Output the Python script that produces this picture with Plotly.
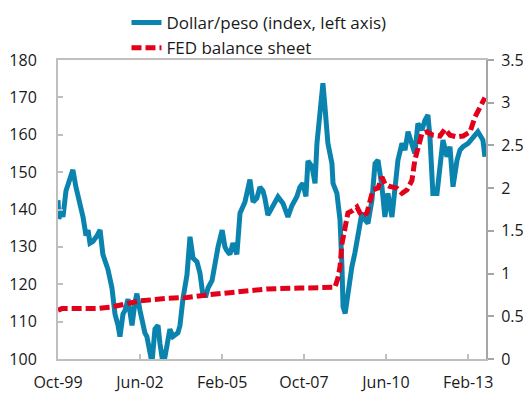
import plotly.graph_objects as go

# Dollar/peso index (left axis)
peso_dates = [
    "1999-10-01", "1999-10-12", "1999-11-06", "1999-11-29", "2000-01-04", "2000-02-21",
    "2000-03-26", "2000-05-01", "2000-05-25", "2000-06-30", "2000-07-24", "2000-08-29",
    "2000-09-22", "2000-10-15", "2000-11-20", "2001-01-07", "2001-02-12", "2001-03-17",
    "2001-04-22", "2001-05-16", "2001-07-03", "2001-08-08", "2001-09-13", "2001-10-06",
    "2001-11-11", "2001-12-05", "2002-01-10", "2002-02-03", "2002-02-26", "2002-04-02",
    "2002-04-25", "2002-06-01", "2002-06-24", "2002-07-29", "2002-08-22", "2002-09-27",
    "2002-10-21", "2002-11-26", "2003-01-01", "2003-01-25", "2003-02-28", "2003-03-24",
    "2003-04-16", "2003-05-22", "2003-06-27", "2003-07-21", "2003-08-26", "2003-09-19",
    "2003-10-24", "2003-12-11", "2004-01-16", "2004-02-21", "2004-04-08", "2004-05-13",
    "2004-06-18", "2004-07-24", "2004-08-17", "2004-10-04", "2004-11-09", "2004-12-14",
    "2005-02-01", "2005-03-06", "2005-03-29", "2005-05-04", "2005-06-09", "2005-07-26",
    "2005-09-01", "2005-10-30", "2005-12-28", "2006-02-03", "2006-03-20", "2006-04-25",
    "2006-06-01", "2006-06-24", "2006-07-29", "2006-09-27", "2006-11-26", "2007-01-25",
    "2007-03-24", "2007-05-10", "2007-07-08", "2007-08-13", "2007-09-18", "2007-10-24",
    "2007-11-17", "2008-01-04", "2008-02-09", "2008-03-03", "2008-04-08", "2008-05-13",
    "2008-06-06", "2008-07-11", "2008-08-28", "2008-09-10", "2008-10-26", "2008-12-02",
    "2008-12-25", "2009-01-07", "2009-02-01", "2009-03-06", "2009-04-22", "2009-05-27",
    "2009-07-03", "2009-08-19", "2009-09-25", "2009-10-30", "2009-12-16", "2010-01-22",
    "2010-02-26", "2010-04-14", "2010-05-19", "2010-06-24", "2010-08-11", "2010-09-16",
    "2010-10-21", "2010-12-08", "2011-01-13", "2011-02-18", "2011-04-05", "2011-05-10",
    "2011-06-15", "2011-08-02", "2011-09-07", "2011-10-12", "2011-11-05", "2011-11-29",
    "2011-12-10", "2012-01-28", "2012-03-03", "2012-04-08", "2012-05-25", "2012-06-30",
    "2012-08-05", "2012-09-22", "2012-10-27", "2012-12-02", "2013-02-01", "2013-03-30",
    "2013-05-28", "2013-07-26", "2013-08-19",
]
peso_values = [
    142.5, 137.5, 140.0, 138.0, 145.0, 148.0,
    150.6, 146.0, 144.0, 140.0, 138.0, 133.0,
    134.5, 131.0, 131.5, 133.0, 134.5, 128.0,
    126.0, 124.0, 119.0, 112.0, 109.0, 106.0,
    112.0, 113.0, 116.0, 112.0, 109.0, 115.0,
    117.5, 113.0, 110.0, 107.0, 106.0, 101.0,
    99.0, 108.0, 109.0, 104.0, 99.0, 100.5,
    104.0, 108.0, 106.0, 106.5, 107.0, 109.0,
    116.0, 122.5, 132.7, 127.0, 126.0, 123.0,
    117.0, 117.0, 119.0, 121.0, 126.5, 130.0,
    134.5, 130.0, 129.0, 128.0, 131.0, 128.0,
    139.0, 142.0, 148.0, 142.0, 143.0, 146.0,
    145.0, 143.0, 138.5, 141.0, 143.4, 141.6,
    138.0, 141.0, 143.4, 146.0, 147.0, 143.5,
    153.0, 151.5, 147.0, 157.7, 166.6, 173.8,
    167.5, 157.7, 152.3, 147.0, 144.3, 137.2,
    124.7, 114.0, 112.2, 118.4, 124.7, 128.3,
    133.6, 139.0, 137.2, 136.3, 142.5, 152.3,
    153.2, 146.1, 138.0, 144.3, 138.0, 146.1,
    153.2, 157.7, 155.9, 160.8, 156.8, 155.0,
    163.0, 161.3, 163.9, 165.3, 159.5, 150.6,
    144.3, 144.3, 153.2, 158.6, 154.1, 156.8,
    146.1, 153.2, 155.9, 156.8, 157.7, 159.5,
    160.8, 158.6, 154.1,
]

# FED balance sheet (right axis)
fed_dates = [
    "1999-10-01", "1999-11-17", "2000-06-18", "2001-01-07", "2001-06-09", "2002-01-10",
    "2002-06-01", "2003-04-16", "2003-12-11", "2004-08-05", "2005-06-09", "2006-07-17",
    "2007-08-13", "2008-10-03", "2008-11-08", "2008-12-02", "2008-12-25", "2009-02-01",
    "2009-03-06", "2009-05-04", "2009-06-21", "2009-07-26", "2009-09-01", "2009-10-18",
    "2009-11-23", "2009-12-28", "2010-02-26", "2010-04-14", "2010-05-19", "2010-07-17",
    "2010-10-09", "2010-12-08", "2011-02-06", "2011-04-05", "2011-05-10", "2011-06-15",
    "2011-08-02", "2011-10-01", "2011-12-10", "2012-03-03", "2012-05-01", "2012-06-30",
    "2012-09-22", "2012-12-02", "2013-02-24", "2013-04-22", "2013-05-28", "2013-07-14",
    "2013-08-19",
]
fed_values = [
    0.57, 0.59, 0.59, 0.59, 0.605, 0.65,
    0.68, 0.71, 0.72, 0.75, 0.78, 0.82,
    0.83, 0.84, 0.95, 1.08, 1.35, 1.59,
    1.71, 1.74, 1.78, 1.71, 1.67, 1.71,
    1.86, 1.98, 2.00, 2.13, 2.05, 2.02,
    2.00, 1.94, 1.98, 2.09, 2.33, 2.48,
    2.64, 2.66, 2.62, 2.61, 2.69, 2.62,
    2.60, 2.61, 2.66, 2.83, 2.90, 3.02,
    3.06,
]

tick_dates = ["1999-10-01", "2002-06-01", "2005-02-01", "2007-10-01", "2010-06-01", "2013-02-01"]
tick_labels = ["Oct-99", "Jun-02", "Feb-05", "Oct-07", "Jun-10", "Feb-13"]

FONT = "Open Sans, Noto Sans, sans-serif"
TXT = "#1a1a1a"

fig = go.Figure()
fig.add_trace(go.Scatter(
    x=peso_dates, y=peso_values, mode="lines",
    name="Dollar/peso (index, left axis)",
    line=dict(color="#0A84AF", width=5),
))
fig.add_trace(go.Scatter(
    x=fed_dates, y=fed_values, mode="lines", yaxis="y2",
    name="FED balance sheet",
    line=dict(color="#E2001A", width=5, dash="10px,4px"),
))

# the page body adds an 8px margin, so the figure is sized to fit inside the window
fig.update_layout(
    width=523, height=394, autosize=False,
    margin=dict(l=50, r=45, t=52, b=43, autoexpand=False),
    paper_bgcolor="white", plot_bgcolor="white",
    font=dict(family=FONT, size=16, color=TXT),
    showlegend=True,
    legend=dict(
        x=0.16, y=0.98, xanchor="left", yanchor="bottom",
        orientation="v", bgcolor="rgba(0,0,0,0)",
        font=dict(family=FONT, size=17, color=TXT),
        tracegroupgap=0, itemwidth=30,
    ),
    xaxis=dict(
        type="date", range=["1999-10-01", "2013-09-01"],
        tickvals=tick_dates, ticktext=tick_labels,
        ticks="inside", ticklen=5, tickcolor="#BFBFBF", tickwidth=2,
        showline=True, linecolor="#BFBFBF", linewidth=2, mirror=True,
        showgrid=False, zeroline=False, ticklabelstandoff=8,
    ),
    yaxis=dict(
        range=[100, 180], dtick=10, tick0=100,
        ticks="inside", ticklen=5, tickcolor="#BFBFBF", tickwidth=2,
        showline=True, linecolor="#BFBFBF", linewidth=2,
        showgrid=False, zeroline=False, ticklabelstandoff=16,
    ),
    yaxis2=dict(
        overlaying="y", side="right",
        range=[0, 3.5], dtick=0.5, tick0=0,
        ticks="outside", ticklen=6, tickcolor="#A6A6A6", tickwidth=2,
        showline=True, linecolor="#A6A6A6", linewidth=2,
        showgrid=False, zeroline=False, ticklabelstandoff=4,
        tickfont=dict(family=FONT, size=16, color=TXT),
    ),
)

fig.write_html("out.html")
